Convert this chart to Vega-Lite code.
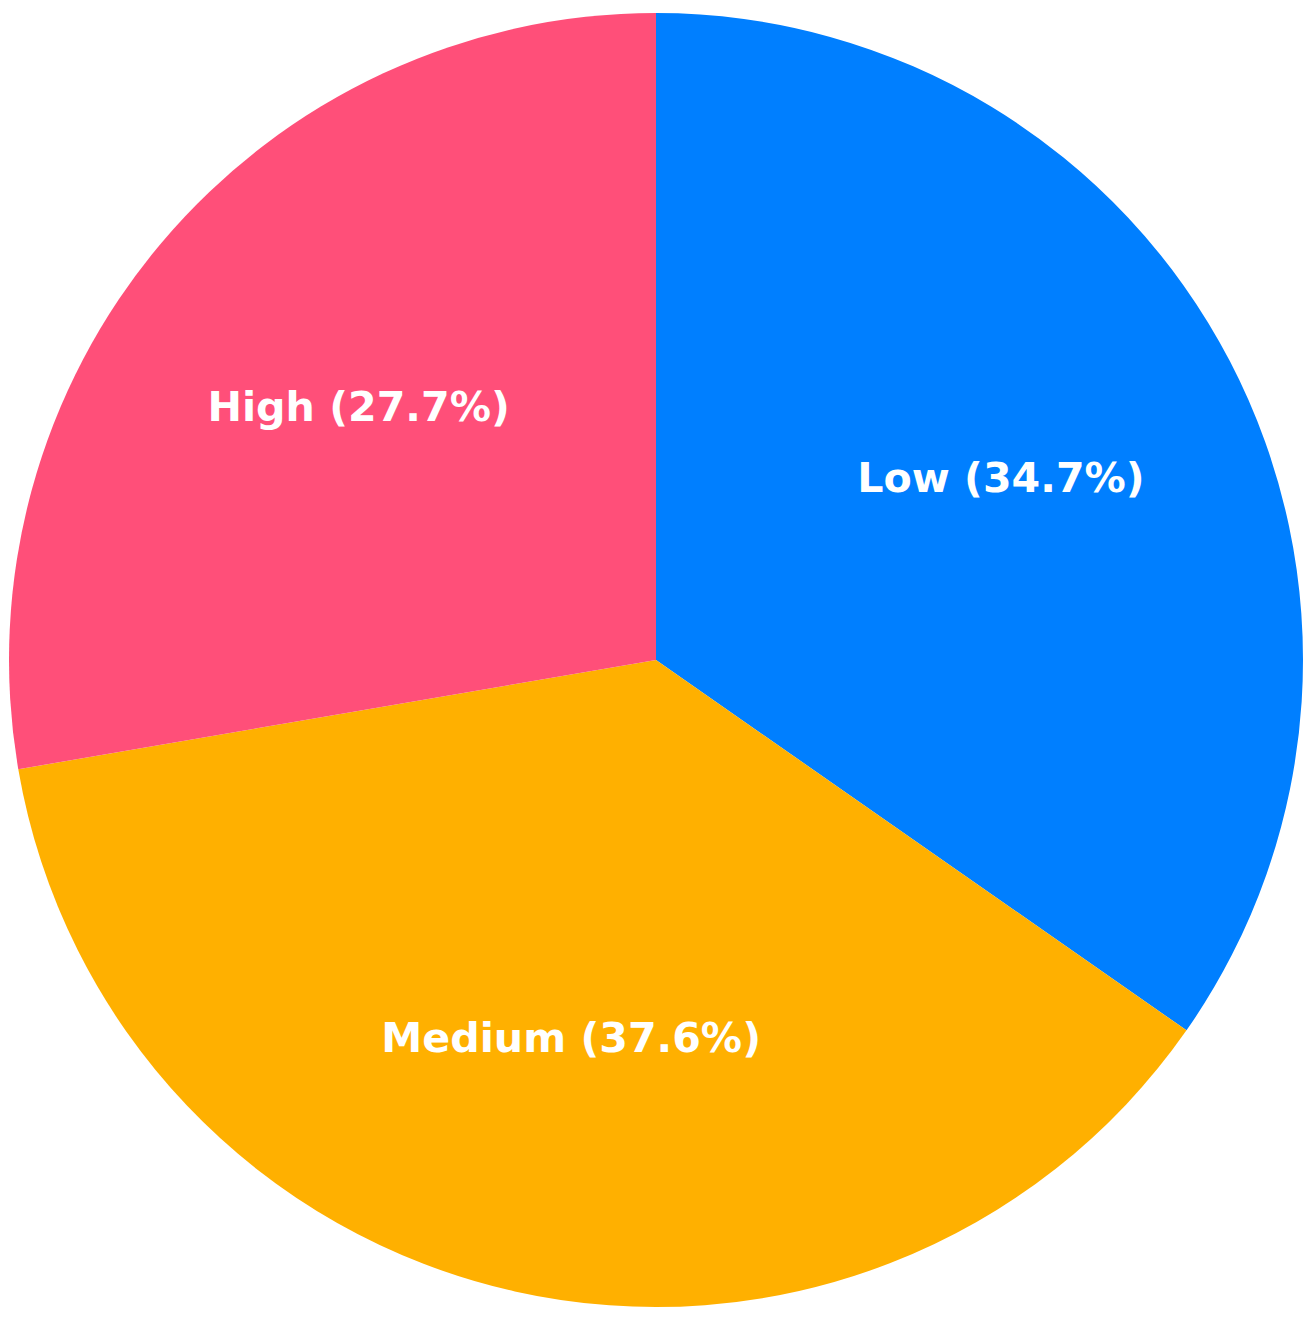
{
  "$schema": "https://vega.github.io/schema/vega-lite/v6.json",
  "width": 1312,
  "height": 1320,
  "autosize": {"type": "fit", "contains": "padding"},
  "padding": 0,
  "background": "white",
  "view": {"stroke": null},
  "data": {"values": [
    {"category": "Low", "value": 34.7, "order": 1, "label": "Low (34.7%)"},
    {"category": "Medium", "value": 37.6, "order": 2, "label": "Medium (37.6%)"},
    {"category": "High", "value": 27.7, "order": 3, "label": "High (27.7%)"}
  ]},
  "encoding": {
    "theta": {"field": "value", "type": "quantitative", "stack": true},
    "order": {"field": "order", "type": "quantitative"},
    "color": {
      "field": "category", "type": "nominal",
      "scale": {"domain": ["Low", "Medium", "High"], "range": ["#007FFF", "#FFB000", "#FF4F79"]},
      "legend": null
    }
  },
  "layer": [
    {"mark": {"type": "arc", "outerRadius": 647, "stroke": null}},
    {"mark": {"type": "text", "radius": 389, "fill": "white", "font": "DejaVu Sans", "fontWeight": "bold", "fontSize": 41.2, "align": "center", "baseline": "middle"},
     "encoding": {"text": {"field": "label"}, "color": {"value": "white"}}}
  ]
}
